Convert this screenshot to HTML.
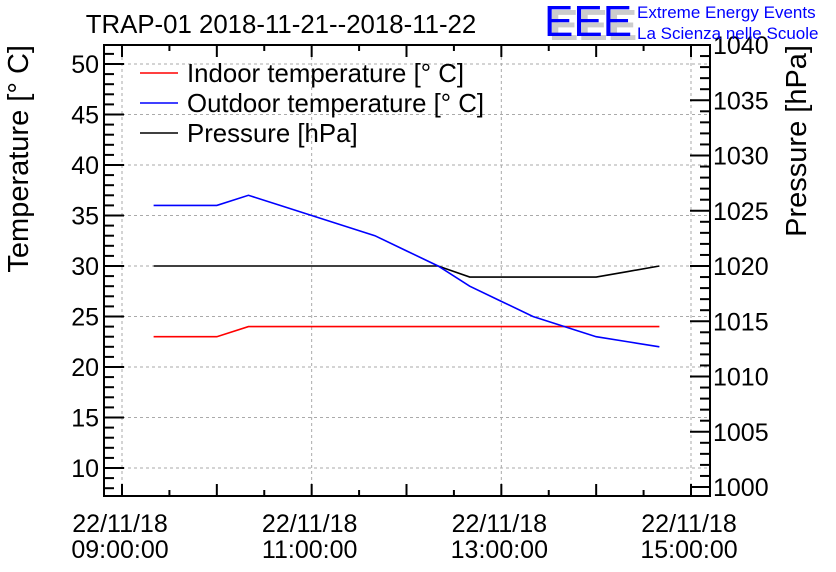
<!DOCTYPE html>
<html><head><meta charset="utf-8"><style>
html,body{margin:0;padding:0;background:#fff;}
svg{display:block;font-family:"Liberation Sans",sans-serif;}
</style></head><body>
<svg id="c" width="836" height="572"></svg>
<script>
const times=[9+20/60,9+40/60,10,10+20/60,10+40/60,11,11+20/60,11+40/60,12,12+20/60,12+40/60,13,13+20/60,13+40/60,14,14+20/60,14+40/60];
const indoor=[23,23,23,24,24,24,24,24,24,24,24,24,24,24,24,24,24];
const outdoor=[36,36,36,37,36,35,34,33,31.5,30,28,26.5,25,24,23,22.5,22];
const pressure=[1020,1020,1020,1020,1020,1020,1020,1020,1020,1020,1019,1019,1019,1019,1019,1019.5,1020];
const tempTicks=[10,15,20,25,30,35,40,45,50];
const presTicks=[1000,1005,1010,1015,1020,1025,1030,1035,1040];
const xTickHours=[9,11,13,15];
const xLabels=["22/11/18\n09:00:00","22/11/18\n11:00:00","22/11/18\n13:00:00","22/11/18\n15:00:00"];

const NS="http://www.w3.org/2000/svg";
const svg=document.getElementById('c');
const L=104,R=710,T=45,B=496;
const xs=h=>122+(h-9)*(691-122)/6;
const yT=v=>468-(v-10)*(468-64)/40;
const yP=v=>487-(v-1000)*(487-45)/40;
function mk(tag,at,parent){const e=document.createElementNS(NS,tag);for(const k in at)e.setAttribute(k,at[k]);(parent||svg).appendChild(e);return e;}

for(const v of tempTicks){const g=mk('line',{x1:L,x2:R,y1:yT(v),y2:yT(v),stroke:'#aaa','stroke-dasharray':'3,3'});

}
for(const h of xTickHours){if(xs(h)>=R)continue;const g=mk('line',{x1:xs(h),x2:xs(h),y1:T,y2:B,stroke:'#aaa','stroke-dasharray':'3,3'});

}

const fr=mk('rect',{x:L,y:T,width:R-L,height:B-T,fill:'none',stroke:'#000','stroke-width':2});



for(let v=8;v<=51;v++){const maj=v%5==0;mk('line',{x1:L,x2:L+(maj?20:10),y1:yT(v),y2:yT(v),stroke:'#000','stroke-width':2});}
for(const v of tempTicks){const t=mk('text',{x:L-5,y:yT(v)+9,'text-anchor':'end','font-size':25});t.textContent=v;

}
for(let v=1000;v<=1040;v++){const maj=v%5==0;mk('line',{x1:R,x2:R-(maj?20:10),y1:yP(v),y2:yP(v),stroke:'#000','stroke-width':2});}
for(const v of presTicks){const t=mk('text',{x:R+3,y:yP(v)+9,'font-size':25});t.textContent=v;

}
for(let h=8.5;h<=15.5;h+=0.5){const x=xs(h);if(x<L||x>R)continue;const maj=Number.isInteger(h);
mk('line',{x1:x,x2:x,y1:B,y2:B-(maj?12:6),stroke:'#000','stroke-width':2});
mk('line',{x1:x,x2:x,y1:T,y2:T+(maj?12:6),stroke:'#000','stroke-width':2});}
xTickHours.forEach((h,i)=>{const [a,b]=xLabels[i].split('\n');
const t=mk('text',{x:xs(h)-2,y:532,'text-anchor':'middle','font-size':25});t.textContent=a;


const t2=mk('text',{x:xs(h)-2,y:558,'text-anchor':'middle','font-size':25});t2.textContent=b;

});

function line(vals,yf,color,name){const p=mk('polyline',{points:vals.map((v,i)=>xs(times[i])+','+yf(v)).join(' '),fill:'none',stroke:color,'stroke-width':1.6});

}
line(pressure,yP,'#000','pressure-line');
line(indoor,yT,'#f00','indoor-temperature-line');
line(outdoor,yT,'#00f','outdoor-temperature-line');

[['Indoor temperature [° C]','#f00',73],['Outdoor temperature [° C]','#00f',103],['Pressure [hPa]','#000',133]].forEach(([lab,c,y])=>{
const g=mk('g',{});


mk('line',{x1:140,x2:178,y1:y,y2:y,stroke:c,'stroke-width':1.6},g);
const t=mk('text',{x:187,y:y+9,'font-size':25.8},g);t.textContent=lab;});

let t=mk('text',{x:281,y:33,'text-anchor':'middle','font-size':25.8});t.textContent='TRAP-01 2018-11-21--2018-11-22';


t=mk('text',{x:0,y:0,'text-anchor':'end','font-size':29,transform:'translate(28,45) rotate(-90)'});t.textContent='Temperature [° C]';


t=mk('text',{x:0,y:0,'text-anchor':'end','font-size':29,transform:'translate(806,45) rotate(-90)'});t.textContent='Pressure [hPa]';


t=mk('text',{x:549,y:40,'font-size':44,fill:'#ccc','font-weight':'bold'});t.textContent='EEE';
t=mk('text',{x:544,y:36,'font-size':44,fill:'#00f'});t.textContent='EEE';


t=mk('text',{x:637,y:18,'font-size':17,fill:'#00f'});t.textContent='Extreme Energy Events';


t=mk('text',{x:637,y:39,'font-size':17,fill:'#00f'});t.textContent='La Scienza nelle Scuole';


</script>
</body></html>
